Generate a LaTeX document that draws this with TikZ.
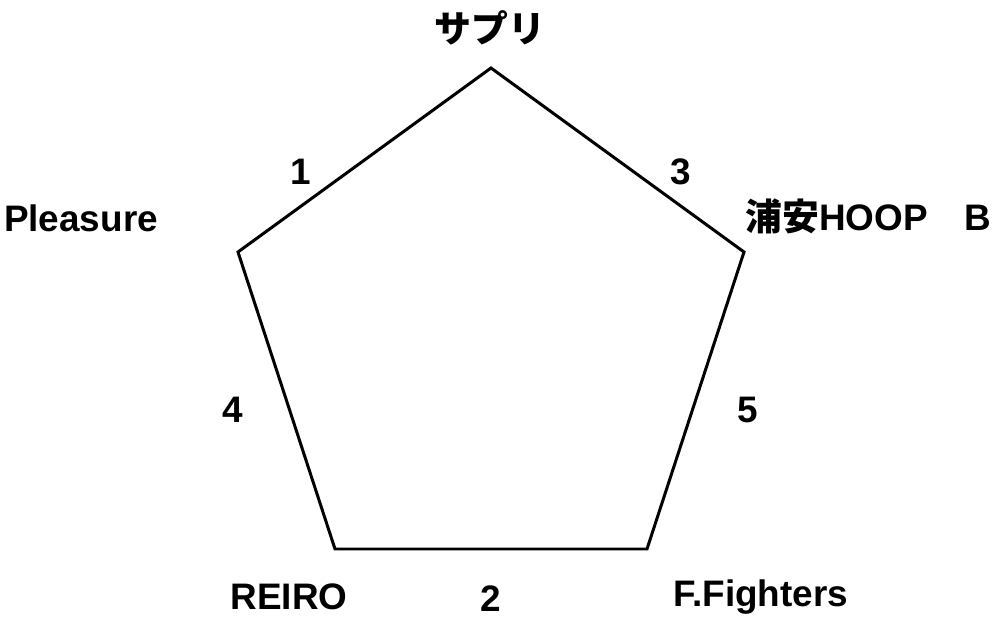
\documentclass[tikz,border=0pt]{standalone}
\usepackage{fontspec}
\setmainfont{Liberation Sans}
\newfontfamily\cjk{Noto Sans CJK JP}
\usepackage{tikz}
\usetikzlibrary{calc,positioning}

\begin{document}
\begin{tikzpicture}[
    x=0.02cm,y=-0.02cm,
    line join=miter,
    %styles
    team/.style={font=\fontsize{21}{23}\selectfont\bfseries,inner sep=0pt},
    score/.style={font=\fontsize{21}{23}\selectfont\bfseries,inner sep=0pt},
    side line/.style={line width=1.7pt},
  ]
  \useasboundingbox (0,0) rectangle (998,619);
  %corners of the pentagon
  \coordinate (supuri) at (491,68);
  \coordinate (urayasu) at (744,252);
  \coordinate (fighters) at (647,549);
  \coordinate (reiro) at (335,549);
  \coordinate (pleasure) at (238,252);
  \draw[side line] (supuri) -- (urayasu) -- (fighters) -- (reiro) -- (pleasure) -- cycle;

  %team names
  \node[team] (supuri label) at (490,28) {\cjk サプリ};
  \node[team,anchor=west] (urayasu label) at (745,216) {{\cjk 浦安}HOOP{\cjk 　}B};
  \node[team] (pleasure label) at (81,218) {Pleasure};
  \node[team] (reiro label) at (289,597) {REIRO};
  \node[team] (fighters label) at (761,597) {F.Fighters};

  %numbers beside the sides
  \foreach \n/\p in {1/{(301,172)}, 3/{(681,172)}, 4/{(233,410)}, 5/{(748,410)}, 2/{(491,599)}}
  \node[score] (num \n) at \p {\n};
\end{tikzpicture}
\end{document}
